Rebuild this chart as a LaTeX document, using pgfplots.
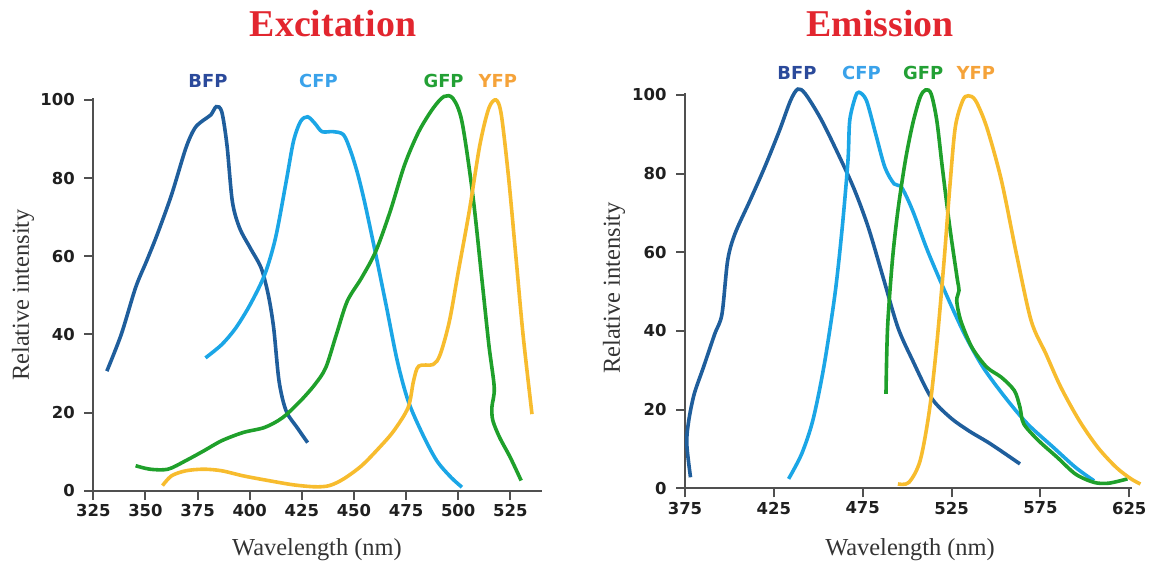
\documentclass[border=0pt]{standalone}
\usepackage{fontspec}
\setmainfont{Liberation Serif}
\newfontfamily\sansb{DejaVu Sans}
\usepackage{pgfplots}
\pgfplotsset{compat=1.18}
\definecolor{cbfp}{HTML}{1F5E9C}
\definecolor{ccfp}{HTML}{1BA6E6}
\definecolor{cgfp}{HTML}{1FA02B}
\definecolor{cyfp}{HTML}{F7BC2E}
\definecolor{lbfp}{HTML}{2B4A9B}
\definecolor{lcfp}{HTML}{3AA2EA}
\definecolor{lgfp}{HTML}{23A035}
\definecolor{lyfp}{HTML}{F5A33A}
\definecolor{ctitle}{HTML}{E2262F}
\definecolor{caxis}{HTML}{505050}
\tikzset{lab/.style={font=\sansb\bfseries\fontsize{18}{18}\selectfont}}
\pgfplotsset{
  spec/.style={
    axis lines=left,
    axis line style={-, caxis, line width=2.2bp},
    tick style={caxis, line width=2bp},
    tick align=outside,
    major tick length=9bp,
    clip=false,
    ymin=0, ymax=100.5,
    ytick={0,20,40,60,80,100},
    /pgf/number format/assume math mode=true,
    /pgf/number format/1000 sep={},
    ticklabel style={font=\sansb\bfseries\fontsize{16.5}{16.5}\selectfont, text=black!88},
    yticklabel style={xshift=-6bp},
    xticklabel style={yshift=-1bp},
    every axis plot/.append style={line width=3.6bp, smooth, no markers},
  },
}
\begin{document}
\begin{tikzpicture}
\useasboundingbox (0bp,0bp) rectangle (1153bp,562bp);
% ---------------- Excitation ----------------
\begin{axis}[spec, at={(93.3bp,71.3bp)}, anchor=south west,
  x=2.085bp, y=3.907bp, xmin=325, xmax=540.2,
  xtick={325,350,375,400,425,450,475,500,525}]
\addplot[cbfp] coordinates {(331.5,30.6)(338.4,40)(345.3,52)(350.5,58.7)(355.6,65.5)(362.5,75.7)(369.4,87.7)(373.7,92.8)(378,94.9)(381.4,96.2)(384,98.3)(386.6,97)(389.1,88.5)(391.7,74)(395.2,67.2)(400.3,62.1)(405.5,57)(408.9,50.2)(411.5,41.7)(414.1,28)(417.5,20.4)(422.7,16.2)(427.8,12.3)};
\addplot[ccfp] coordinates {(378.8,34)(386.6,37.4)(393.4,41.7)(400.3,47.7)(407.2,55.3)(412.4,64.7)(417.5,79.1)(421,89.4)(424.4,94.5)(427.8,95.7)(431.3,94)(434.7,91.9)(439.9,91.9)(445,91.1)(448.5,86.8)(451.9,80.9)(455.4,73.2)(460.5,60.4)(465.7,46.8)(470.8,33.2)(476,23)(482.9,14.5)(489.7,7.7)(496.6,3.4)(501.8,0.9)};
\addplot[cgfp] coordinates {(345.3,6.4)(352.2,5.5)(360.8,5.5)(369.4,7.7)(378,10.2)(386.6,12.8)(396.9,14.9)(407.2,16.2)(415.8,18.7)(424.4,23)(431.3,27.2)(436.5,31.5)(441.6,40)(446.8,48.5)(453.7,54.5)(460.5,61.3)(467.4,71.5)(474.3,83.4)(481.1,91.9)(488,97.9)(493.2,100.9)(497.5,100.4)(501.8,94.5)(507,75.7)(511.3,54.5)(514.7,37.4)(517.3,26.4)(516.2,21.5)(516.6,18)(519.9,13.6)(525,8.5)(530.2,2.6)};
\addplot[cyfp] coordinates {(358.2,1.3)(362.5,3.8)(369.4,5.1)(378,5.5)(386.6,5.1)(396.9,3.8)(408.9,2.6)(421,1.5)(431.3,1)(438.2,1.3)(445,3)(453.7,6.4)(462.3,11.1)(469.1,15.3)(476,21.3)(478.6,28.1)(481.1,31.9)(488,32.3)(491.4,34.9)(495.8,43.4)(500.1,56.2)(505.3,71.5)(510.4,88.5)(514.7,97.9)(518.2,100)(520.7,96.2)(524.2,80)(527.6,60.4)(531.1,40)(535.4,19.6)};
\node[lab, text=lbfp] at (axis cs:380,104.9) {BFP};
\node[lab, text=lcfp] at (axis cs:433,104.9) {CFP};
\node[lab, text=lgfp] at (axis cs:493,104.9) {GFP};
\node[lab, text=lyfp] at (axis cs:519,104.9) {YFP};
\end{axis}
% ---------------- Emission ----------------
\begin{axis}[spec, at={(685bp,73.7bp)}, anchor=south west,
  x=1.777bp, y=3.933bp, xmin=375, xmax=626.5,
  xtick={375,425,475,525,575,625}]
\addplot[cbfp] coordinates {(378.1,2.8)(376,11.3)(377.1,17.2)(380.2,24)(385.4,30.8)(391.7,39.2)(395.8,44.3)(399,57.9)(403.1,64.7)(411.5,73.1)(419.8,81.6)(428.1,90.9)(434.4,98.6)(438.5,101.5)(442.7,100.3)(451,94.3)(459.4,86.7)(469.8,76.5)(478.1,66.4)(486.5,53.6)(494.8,40.9)(503.1,32.5)(513.5,23.1)(524,18.1)(534.4,14.7)(546.9,11.3)(563.5,6.2)};
\addplot[ccfp] coordinates {(433.3,2.4)(440.6,8.7)(446.9,17.2)(453.1,30.8)(459.4,49.4)(463.5,66.4)(466.7,83.3)(467.7,93.5)(470.8,99.4)(472.9,100.7)(477.1,98.6)(482.3,90.1)(487.5,81.6)(492.7,77.4)(496.9,76.5)(503.1,70.6)(511.5,60.4)(521.9,49.4)(532.3,39.2)(542.7,30.8)(555.2,23.1)(567.7,16.4)(582.3,10.4)(594.8,5.3)(605.2,1.9)};
\addplot[cgfp] coordinates {(488.1,24)(489,40.9)(491.7,57.9)(494.8,70.6)(499,83.3)(503.1,92.6)(507.3,99.4)(510.4,101.3)(513.5,100.3)(516.7,93.5)(519.8,81.6)(524,66.4)(528.1,53.6)(529.2,50.3)(527.9,47.7)(530.2,42.6)(536.5,35.8)(544.8,30.8)(553.1,28.2)(560.4,24.8)(563.5,20.6)(565.6,16.4)(574,12.1)(584.4,7.9)(594.8,3.6)(605.2,1.5)(613.5,1.3)(624,2.4)};
\addplot[cyfp] coordinates {(494.8,1.1)(501,1.5)(507.3,7)(512.5,19.7)(516.7,36.7)(520.8,57.9)(524,76.5)(527.1,91.8)(531.3,98.6)(534.4,99.8)(538.5,98.6)(544.8,91.8)(553.1,78.2)(561.5,59.6)(569.8,42.6)(578.1,34.2)(586.5,25.7)(596.9,17.2)(607.3,10.4)(617.7,5.3)(626,2.4)(631.3,1.1)};
\node[lab, text=lbfp] at (axis cs:438,105.6) {BFP};
\node[lab, text=lcfp] at (axis cs:474.3,105.6) {CFP};
\node[lab, text=lgfp] at (axis cs:509,105.6) {GFP};
\node[lab, text=lyfp] at (axis cs:538.7,105.6) {YFP};
\end{axis}
% ---------------- Titles and labels ----------------
\node[anchor=base, text=ctitle, font=\bfseries\fontsize{38}{38}\selectfont] at (333bp,525bp) {Excitation};
\node[anchor=base, text=ctitle, font=\bfseries\fontsize{38}{38}\selectfont] at (880bp,525bp) {Emission};
\node[anchor=base, font=\fontsize{24.5}{24.5}\selectfont, text=black!80] at (317bp,7bp) {Wavelength (nm)};
\node[anchor=base, font=\fontsize{24.5}{24.5}\selectfont, text=black!80] at (910bp,7bp) {Wavelength (nm)};
\node[rotate=90, font=\fontsize{24.5}{24.5}\selectfont, text=black!80] at (23bp,267bp) {Relative intensity};
\node[rotate=90, font=\fontsize{24.5}{24.5}\selectfont, text=black!80] at (614bp,274bp) {Relative intensity};
\end{tikzpicture}
\end{document}
